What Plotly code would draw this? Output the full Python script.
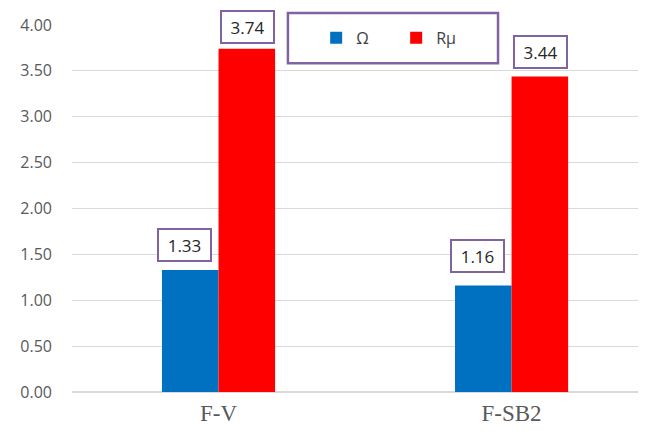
import plotly.graph_objects as go

categories = ["F-V", "F-SB2"]
omega_vals = [1.33, 1.16]
rmu_vals = [3.74, 3.44]
series_names = ["Ω", "Rμ"]
tick_vals = [0, 0.5, 1.0, 1.5, 2.0, 2.5, 3.0, 3.5, 4.0]

BLUE = "#0070C0"
RED = "#FF0000"
PURPLE = "#8064A2"

fig = go.Figure()
fig.add_trace(go.Bar(x=categories, y=omega_vals, name=series_names[0],
                     marker=dict(color=BLUE, line=dict(width=0))))
fig.add_trace(go.Bar(x=categories, y=rmu_vals, name=series_names[1],
                     marker=dict(color=RED, line=dict(width=0))))

# boxed data labels (x / y pixel offsets per label)
label_specs = [
    (omega_vals, -34, [8, 13]),
    (rmu_vals, 29, [5, 7]),
]
for vals, xs, yss in label_specs:
    for c, v, ys in zip(categories, vals, yss):
        fig.add_annotation(x=c, y=v, xref="x", yref="y", text=f"{v:.2f}",
                           showarrow=False, xshift=xs, yshift=ys,
                           yanchor="bottom", width=47, height=26,
                           font=dict(family="Open Sans", size=17, color="#262626"),
                           bordercolor=PURPLE, borderwidth=2, borderpad=2,
                           bgcolor="white")

# legend border box
fig.add_shape(type="rect", xref="paper", yref="paper",
              x0=0.371, x1=0.732, y0=0.896, y1=1.033,
              line=dict(color=PURPLE, width=2.5), fillcolor="white", layer="above")

# the page body adds an 8px offset, so the figure is shifted up/left by 8px
fig.update_layout(
    width=646, height=428,
    margin=dict(l=64, r=0, t=17, b=44),
    paper_bgcolor="white", plot_bgcolor="white",
    barmode="group", bargap=0.614, bargroupgap=0,
    showlegend=True,
    legend=dict(orientation="h", x=0.557, y=0.965, xanchor="center", yanchor="middle",
                font=dict(family="Open Sans", size=16, color="#404040"),
                bgcolor="rgba(0,0,0,0)", entrywidth=35, itemwidth=30),
    xaxis=dict(type="category", range=[-0.5, 1.486], showgrid=False,
               showline=False, ticks="", automargin=False, ticklabelstandoff=5,
               tickfont=dict(family="Liberation Serif", size=23, color="#595959")),
    yaxis=dict(range=[0, 4.0], tickvals=tick_vals, tickformat=".2f",
               showgrid=True, gridcolor="#D9D9D9", gridwidth=1,
               zeroline=True, zerolinecolor="#D9D9D9", zerolinewidth=1.5,
               showline=False, ticks="", ticklabelstandoff=19, automargin=False,
               tickfont=dict(family="Open Sans", size=16, color="#595959")),
)

fig.write_html("out.html")
